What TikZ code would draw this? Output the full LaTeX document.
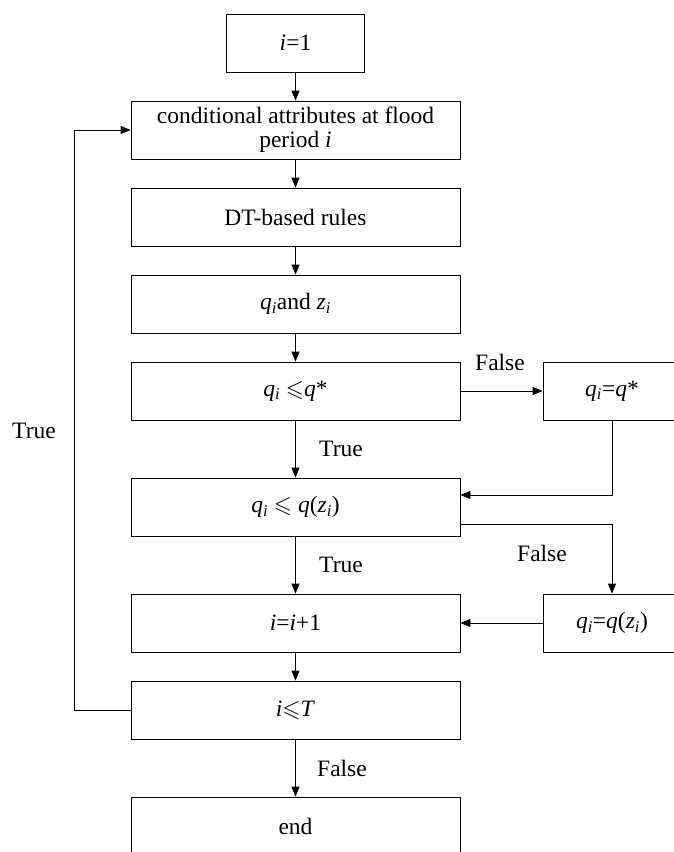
\documentclass[tikz,border=0pt]{standalone}
\usepackage{fontspec}
\setmainfont{Liberation Serif}
\usepackage{amssymb}
\usetikzlibrary{arrows.meta,calc}
\newcommand\iv[1]{\textit{#1}}
\newcommand\subi{\textsubscript{\textit{i}}}
\begin{document}
\begin{tikzpicture}[x=1pt,y=-1pt,
  font=\fontsize{23.5}{24}\selectfont,
  box/.style={draw, line width=0.8pt, minimum width=329pt, minimum height=58pt, inner sep=0pt, align=center},
  sbox/.style={box, minimum width=138pt},
  arr/.style={-{Triangle[length=10pt,width=8pt]}, line width=0.8pt},
  lbl/.style={inner sep=0pt}]
\useasboundingbox (0,0) rectangle (673,852);
\node[sbox] (i1) at (295.5,43) {\iv{i}=1};
\node[box] (cond) at (295.5,130) {conditional attributes at flood\\period \iv{i}};
\node[box] (dt) at (295.5,217) {DT-based rules};
\node[box] (qz) at (295.5,304) {\iv{q}\subi and \iv{z}\subi};
\node[box] (c1) at (295.5,391) {\iv{q}\subi\ $\leqslant$\iv{q}*};
\node[sbox] (r1) at (612,391) {\iv{q}\subi=\iv{q}*};
\node[box] (c2) at (295.5,507) {\raisebox{-4pt}{\iv{q}\subi\ $\leqslant$ \iv{q}(\iv{z}\subi)}};
\node[box] (inc) at (295.5,623) {\iv{i}=\iv{i}+1};
\node[sbox] (r2) at (612,623) {\iv{q}\subi=\iv{q}(\iv{z}\subi)};
\node[box] (c3) at (295.5,710) {\iv{i}$\leqslant$\iv{T}};
\node[box] (end) at (295.5,826) {end};

\draw[arr] (i1) -- (cond);
\draw[arr] (cond) -- (dt);
\draw[arr] (dt) -- (qz);
\draw[arr] (qz) -- (c1);
\draw[arr] (c1) -- (c2);
\draw[arr] (c1) -- (r1);
\draw[arr] (r1.south) |- ($(c2.east)+(0,-12)$);
\draw[arr] ($(c2.east)+(0,17)$) -| (r2.north);
\draw[arr] (c2) -- (inc);
\draw[arr] (r2) -- (inc);
\draw[arr] (inc) -- (c3);
\draw[arr] (c3) -- (end);
\draw[arr] (c3.west) -- ++(-56,0) |- (cond.west);

\node[lbl] (f1) at (500,362) {False};
\node[lbl] (t1) at (341,449) {True};
\node[lbl] (t2) at (341,565) {True};
\node[lbl] (f2) at (542,553) {False};
\node[lbl] (f3) at (342,768) {False};
\node[lbl] (t3) at (34,431) {True};
\end{tikzpicture}
\end{document}
